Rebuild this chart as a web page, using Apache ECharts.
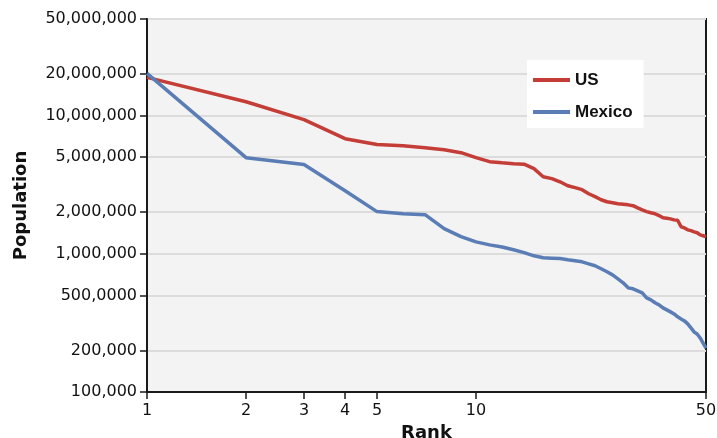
<!DOCTYPE html>
<html>
<head>
<meta charset="utf-8">
<script src="https://cdn.jsdelivr.net/npm/echarts@6/dist/echarts.min.js"></script>
<style>
  html, body { margin: 0; padding: 0; background: #fff; }
  #chart { width: 717px; height: 438px; }
</style>
</head>
<body>
<div id="chart"></div>
<script>
// rank 1..50, metro population
var ranks = [];
for (var r = 1; r <= 50; r++) ranks.push(r);

var usPop = [
  18900000, 12600000, 9350000, 6810000, 6170000, 6060000, 5860000, 5670000, 5390000, 4960000,
  4640000, 4560000, 4490000, 4450000, 4130000, 3610000, 3500000, 3320000, 3110000, 3010000,
  2910000, 2720000, 2590000, 2460000, 2380000, 2340000, 2300000, 2280000, 2260000, 2230000,
  2150000, 2080000, 2020000, 1980000, 1950000, 1890000, 1820000, 1810000, 1790000, 1760000,
  1750000, 1570000, 1540000, 1490000, 1470000, 1440000, 1420000, 1370000, 1350000, 1330000
];

var mexicoPop = [
  20200000, 4960000, 4420000, 2860000, 2020000, 1950000, 1920000, 1520000, 1330000, 1220000,
  1160000, 1120000, 1070000, 1020000, 967000, 935000, 930000, 925000, 905000, 890000,
  875000, 846000, 819000, 779000, 741000, 704000, 659000, 617000, 567000, 558000,
  540000, 522000, 480000, 464000, 442000, 427000, 406000, 393000, 380000, 367000,
  350000, 338000, 327000, 311000, 291000, 272000, 263000, 246000, 226000, 208000
];

var xTicks = [1, 2, 3, 4, 5, 10, 50];
var yTicks = [100000, 200000, 500000, 1000000, 2000000, 5000000, 10000000, 20000000, 50000000];
var yTickLabels = ["100,000", "200,000", "500,0000", "1,000,000", "2,000,000",
                   "5,000,000", "10,000,000", "20,000,000", "50,000,000"];

var C = { us: "#c43d36", mx: "#5b7db6", ink: "#1a1a1a", grid: "#dcdcdc", bg: "#f3f3f3" };
var FONT = "DejaVu Sans";

function pairs(vals) {
  return vals.map(function (v, i) { return [ranks[i], v]; });
}

function yLabel(v) {
  for (var i = 0; i < yTicks.length; i++) {
    if (Math.abs(v - yTicks[i]) / yTicks[i] < 0.01) return yTickLabels[i];
  }
  return "";
}

var chart = echarts.init(document.getElementById("chart"));
chart.setOption({
  animation: false,
  grid: {
    left: 147, right: 11, top: 19, bottom: 46,
    outerBoundsMode: "none",
    containLabel: false,
    show: true,
    backgroundColor: C.bg,
    borderColor: C.ink,
    borderWidth: 2
  },
  legend: {
    orient: "vertical",
    left: 527, top: 60,
    backgroundColor: "#fff",
    padding: [10, 11, 6, 6],
    itemGap: 12,
    itemWidth: 37,
    itemHeight: 4,
    icon: "rect",
    textStyle: {
      fontFamily: "Liberation Sans",
      fontWeight: "bold", fontSize: 17, lineHeight: 20, color: "#111"
    },
    data: ["US", "Mexico"]
  },
  xAxis: {
    type: "log",
    logBase: 10,
    min: 1, max: 50,
    name: "Rank",
    nameLocation: "middle",
    nameGap: 28,
    nameTextStyle: { fontFamily: FONT, fontWeight: "bold", fontSize: 18, color: "#111" },
    axisLine: { lineStyle: { color: C.ink, width: 2 } },
    axisTick: { show: true, length: 7, lineStyle: { color: C.ink, width: 1.5 }, customValues: xTicks },
    axisLabel: {
      customValues: xTicks,
      fontFamily: FONT, fontSize: 16, color: "#111", margin: 11,
      formatter: function (v) { return String(Math.round(v)); }
    },
    splitLine: { show: false }
  },
  yAxis: {
    type: "log",
    logBase: 10,
    min: 100000, max: 50000000,
    name: "Population",
    nameLocation: "middle",
    nameGap: 117,
    nameTextStyle: { fontFamily: FONT, fontWeight: "bold", fontSize: 18, color: "#111" },
    axisLine: { show: true, lineStyle: { color: C.ink, width: 2 } },
    axisTick: { show: true, length: 7, lineStyle: { color: C.ink, width: 1.5 }, customValues: yTicks },
    axisLabel: {
      customValues: yTicks,
      fontFamily: FONT, fontSize: 16, color: "#111", margin: 10,
      formatter: yLabel
    },
    splitLine: { show: true, lineStyle: { color: C.grid, width: 2 } }
  },
  series: [
    {
      name: "US",
      type: "line",
      symbol: "none",
      data: pairs(usPop),
      lineStyle: { color: C.us, width: 3.5 },
      itemStyle: { color: C.us }
    },
    {
      name: "Mexico",
      type: "line",
      symbol: "none",
      data: pairs(mexicoPop),
      lineStyle: { color: C.mx, width: 3.5 },
      itemStyle: { color: C.mx }
    }
  ]
});
</script>
</body>
</html>
